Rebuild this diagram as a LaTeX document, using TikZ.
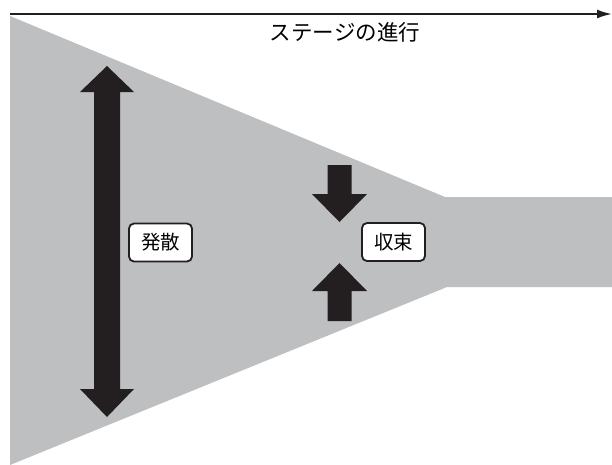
\documentclass[tikz,border=0pt]{standalone}
\usepackage{fontspec}
\newfontfamily\cjk{Noto Sans CJK JP}
\usetikzlibrary{arrows.meta}
\definecolor{fan}{HTML}{BEBFC1}
\definecolor{ink}{HTML}{231F20}
\begin{document}
\begin{tikzpicture}[x=1pt,y=-1pt,
  tag/.style={draw=ink, line width=1.8pt, rounded corners=5pt, fill=white,
    minimum width=63pt, minimum height=38pt, inner sep=0pt,
    font=\cjk\fontsize{19.5}{19.5}\selectfont},
  caption/.style={font=\cjk\fontsize{21.5}{21.5}\selectfont, inner sep=0pt},
  blockarrow/.style={fill=ink},
  timeline/.style={draw=ink, line width=2pt, -{Latex[length=15pt,width=9pt]}}]
\useasboundingbox (0,0) rectangle (612,464);
% funnel
\fill[fan] (10,16) -- (445,197) -- (612,197) -- (612,287) -- (447,287) -- (10,465) -- cycle;
% timeline arrow
\coordinate (tstart) at (10,14);
\coordinate (tend) at (612,14);
\draw[timeline] (tstart) -- (tend);
\node[caption] (prog) at (345,32) {ステージの進行};
% divergence double arrow
\fill[blockarrow] (107,66) -- (134,92) -- (120,92) -- (120,389) -- (134,389) -- (107,417)
  -- (80,389) -- (94,389) -- (94,92) -- (80,92) -- cycle;
% convergence arrows
\fill[blockarrow] (327.5,165) -- (351.5,165) -- (351.5,194) -- (367,194) -- (339.5,222)
  -- (312,194) -- (327.5,194) -- cycle;
\fill[blockarrow] (339.5,263) -- (367,291) -- (351.5,291) -- (351.5,321) -- (327.5,321)
  -- (327.5,291) -- (312,291) -- cycle;
% labels
\node[tag] (div) at (160.5,242.5) {発散};
\node[tag] (conv) at (393.5,242) {収束};
\end{tikzpicture}
\end{document}
